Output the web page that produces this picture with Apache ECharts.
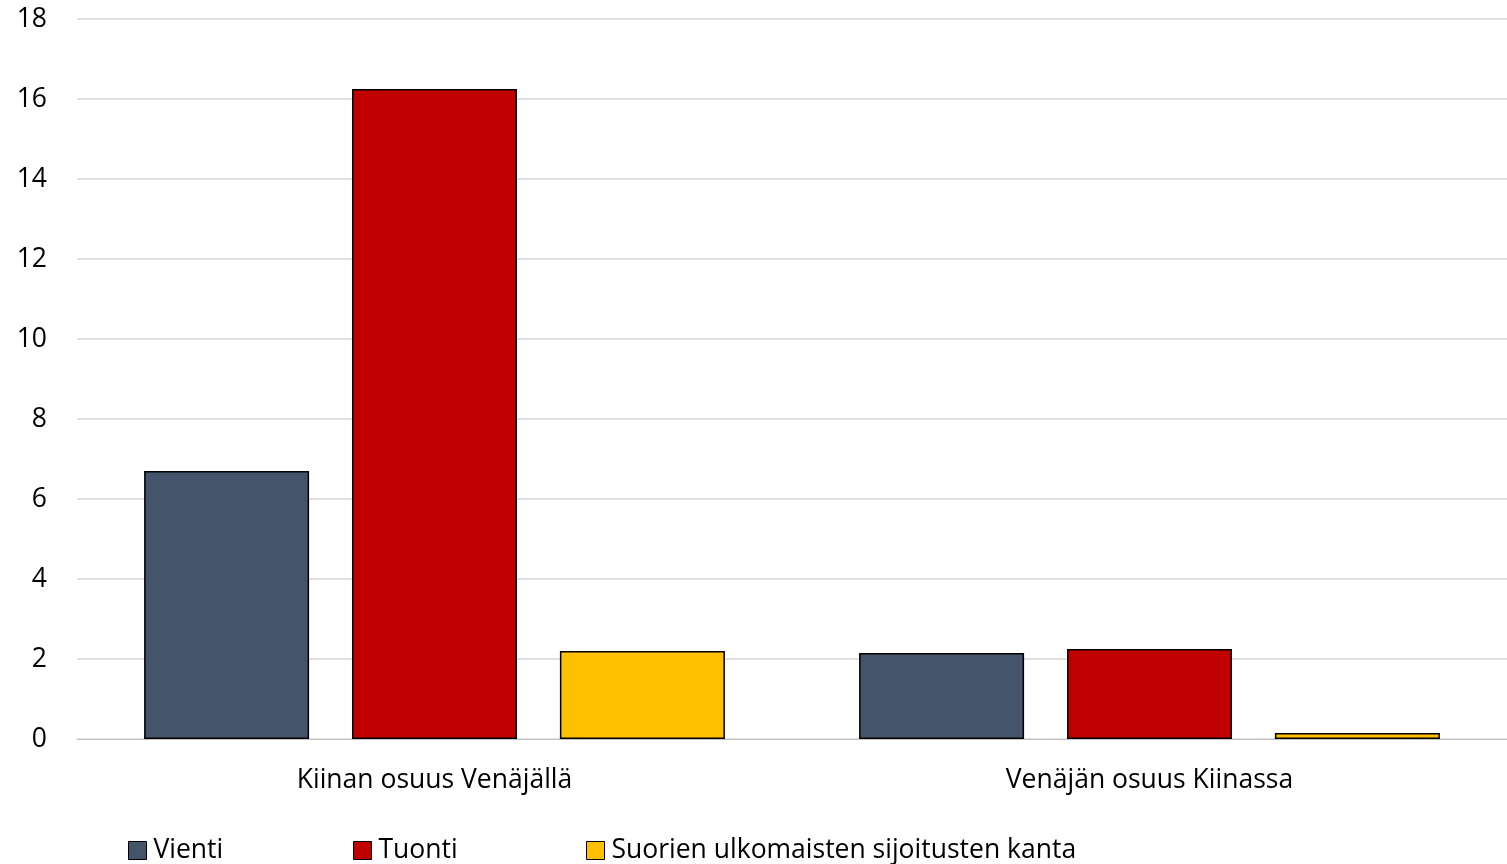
<!DOCTYPE html>
<html><head><meta charset="utf-8">
<script src="https://cdn.jsdelivr.net/npm/echarts@6/dist/echarts.min.js"></script>
<style>html,body{margin:0;padding:0;background:#fff}#c{width:1507px;height:864px}</style>
</head><body><div id="c"></div>
<script>
const categories = ['Kiinan osuus Venäjällä', 'Venäjän osuus Kiinassa'];
const seriesNames = ['Vienti', 'Tuonti', 'Suorien ulkomaisten sijoitusten kanta'];
const vienti = [6.7, 2.15];
const tuonti = [16.25, 2.25];
const fdi = [2.2, 0.15];
const colors = ['#44546A', '#C00000', '#FFC000'];
const FONT = '"Open Sans", sans-serif';
const chart = echarts.init(document.getElementById('c'));
const legendPos = [128, 353, 586];
const vals = [vienti, tuonti, fdi];
chart.setOption({
  animation: false,
  grid: { left: 77, width: 1434, top: 19, height: 720 },
  xAxis: {
    type: 'category', data: categories,
    axisTick: { show: false },
    axisLine: { lineStyle: { color: '#bfbfbf', width: 1 } },
    axisLabel: { color: '#000', fontSize: 26.5, fontFamily: FONT, margin: 28 }
  },
  yAxis: {
    type: 'value', min: 0, max: 18, interval: 2,
    axisLine: { show: false }, axisTick: { show: false },
    splitLine: { lineStyle: { color: '#d9d9d9', width: 1.5 } },
    axisLabel: { color: '#000', fontSize: 26.5, fontFamily: FONT, margin: 30 }
  },
  legend: seriesNames.map((n, i) => ({
    data: [n], left: legendPos[i], top: 837, itemWidth: 18, itemHeight: 18, itemGap: 0,
    padding: 0, icon: 'rect',
    textStyle: { color: '#000', fontSize: 26.5, fontFamily: FONT, padding: [0, 0, 0, 2] },
    itemStyle: { borderColor: '#000', borderWidth: 1 }
  })),
  series: seriesNames.map((n, i) => ({
    name: n, type: 'bar', data: vals[i],
    barWidth: 165, barGap: '26%',
    itemStyle: { color: colors[i], borderColor: '#000', borderWidth: 1.5 }
  }))
});
</script></body></html>
